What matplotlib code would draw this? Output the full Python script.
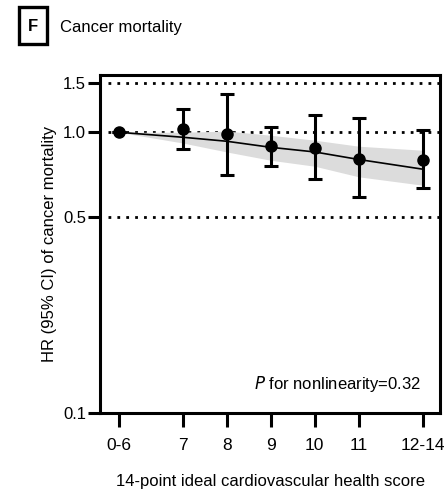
import matplotlib
matplotlib.use('Agg')
import matplotlib.pyplot as plt
from matplotlib.patches import Rectangle
import numpy as np

plt.rcParams['font.family'] = ['Liberation Sans', 'DejaVu Sans']

# score groups and their positions on the x axis
groups = ['0-6', '7', '8', '9', '10', '11', '12-14']
xpos = [5.55, 7, 8, 9, 10, 11, 12.45]

# point estimates with 95% CI
hr = [1.0, 1.025, 0.984, 0.892, 0.882, 0.806, 0.797]
ci_lo = [1.0, 0.872, 0.703, 0.757, 0.684, 0.586, 0.634]
ci_hi = [1.0, 1.207, 1.369, 1.048, 1.149, 1.124, 1.016]

# fitted trend and its confidence band
fit = [1.0, 0.96, 0.929, 0.884, 0.851, 0.80, 0.739]
band_lo = [1.0, 0.916, 0.851, 0.795, 0.757, 0.694, 0.648]
band_hi = [1.0, 1.0, 1.01, 0.976, 0.937, 0.892, 0.863]

ref_lines = [1.5, 1.0, 0.5]
yticks = [0.1, 0.5, 1.0, 1.5]

fig = plt.figure(figsize=(4.46, 4.93), dpi=100)
ax = fig.add_axes([0.224, 0.162, 0.763, 0.686])

ax.set_yscale('log')
ax.set_ylim(0.1, 1.6)
ax.set_xlim(5.12, 12.85)

for v in ref_lines:
    ax.axhline(v, xmin=0.025, color='black', linestyle=(0, (1, 2.2)), lw=2.0, zorder=1)

ax.fill_between(xpos, band_lo, band_hi, color='#dcdcdc', lw=0, zorder=2)
ax.plot(xpos, fit, color='black', lw=1.2, zorder=3)

yerr = [np.array(hr) - np.array(ci_lo), np.array(ci_hi) - np.array(hr)]
ax.errorbar(xpos, hr, yerr=yerr, fmt='o', color='black', ms=8, elinewidth=2.2,
            capsize=5, capthick=2.2, zorder=4)

ax.set_yticks(yticks)
ax.set_yticklabels(['0.1', '0.5', '1.0', '1.5'])
ax.yaxis.set_minor_locator(matplotlib.ticker.NullLocator())
ax.set_xticks(xpos)
ax.set_xticklabels(groups)

for s in ax.spines.values():
    s.set_linewidth(2.2)
ax.tick_params(axis='y', length=9, width=2.2, labelsize=12, pad=1)
ax.tick_params(axis='x', length=10, width=2.2, labelsize=12.5, pad=8)

ax.set_ylabel('HR (95% CI) of cancer mortality', fontsize=12, labelpad=4)
ax.set_xlabel('14-point ideal cardiovascular health score', fontsize=12, labelpad=15)

ax.text(0.945, 0.085, r'$\it{P}$ for nonlinearity=0.32', transform=ax.transAxes,
        ha='right', va='center', fontsize=12)

# panel label and title
fig.patches.append(Rectangle((0.042, 0.910), 0.063, 0.075, transform=fig.transFigure,
                             fill=False, ec='black', lw=2.4))
fig.text(0.0735, 0.947, 'F', fontsize=12, fontweight='bold', ha='center', va='center')
fig.text(0.135, 0.945, 'Cancer mortality', fontsize=12, ha='left', va='center')

fig.savefig('out.png', dpi=100)
